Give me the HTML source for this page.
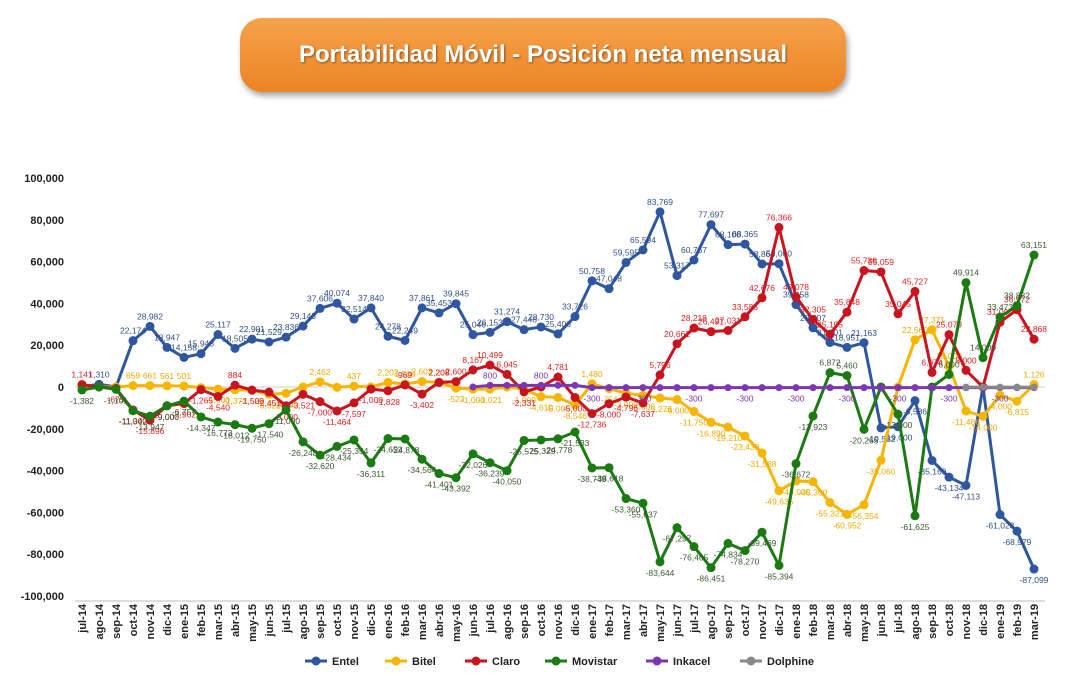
<!DOCTYPE html>
<html><head><meta charset="utf-8"><style>
body{margin:0;width:1073px;height:678px;background:#fff;overflow:hidden;font-family:"Liberation Sans",sans-serif}
.title{position:absolute;left:240px;top:18px;width:606px;height:74px;border-radius:22px;background:linear-gradient(#f6a24a,#ec8424);box-shadow:2px 4px 6px rgba(0,0,0,.35);color:#fff;font-weight:bold;font-size:24px;text-align:center;line-height:74px;text-shadow:1px 1px 2px rgba(0,0,0,.45)}
</style></head><body>
<div class="title">Portabilidad Móvil - Posición neta mensual</div>
<svg id="c" width="1073" height="678" style="position:absolute;left:0;top:0"></svg>
<script>
const months=["jul-14","ago-14","sep-14","oct-14","nov-14","dic-14","ene-15","feb-15","mar-15","abr-15","may-15","jun-15","jul-15","ago-15","sep-15","oct-15","nov-15","dic-15","ene-16","feb-16","mar-16","abr-16","may-16","jun-16","jul-16","ago-16","sep-16","oct-16","nov-16","dic-16","ene-17","feb-17","mar-17","abr-17","may-17","jun-17","jul-17","ago-17","sep-17","oct-17","nov-17","dic-17","ene-18","feb-18","mar-18","abr-18","may-18","jun-18","jul-18","ago-18","sep-18","oct-18","nov-18","dic-18","ene-19","feb-19","mar-19"];
const X=i=>82+i*17, Y=v=>387-v*0.00209;
const S=[
["Entel","#2f56a0","#2f4f8a",[0,1310,0,22174,28982,18947,14158,15948,25117,18505,22901,21529,23836,29143,37606,40074,32514,37840,24278,22249,37861,35453,39845,25046,26153,31274,27446,28730,25406,33726,50758,47048,59595,65594,83769,53317,60767,77697,68106,68365,58864,59000,39458,28307,21301,18951,21163,-19582,-19000,-6536,-35169,-43134,-47113,0,-61023,-68979,-87099]],
["Bitel","#f7b500","#f0a800",[0,0,0,659,661,561,501,-306,-1000,-1372,-1529,-3522,-3000,0,2462,-176,437,0,2202,1500,2603,2208,-523,-1000,-1021,0,-1000,-4610,-5000,-8546,1480,-754,-3000,-4000,-5276,-6000,-11750,-16890,-19210,-23439,-31588,-49635,-45000,-45300,-55321,-60952,-56354,-35060,0,22560,27371,10000,-11486,-14000,-4000,-6815,1126]],
["Claro","#c8141e","#e02020",[1141,0,-675,-11000,-15896,-9000,-7902,-1265,-4540,884,-1500,-2451,-9000,-3521,-7000,-11464,-7597,-1000,-1828,969,-3402,2208,2600,8167,10499,6045,-2331,0,4781,-5000,-12736,-8000,-4796,-7637,5796,20661,28218,26491,27031,33585,42676,76366,43078,32305,25195,35848,55736,55059,35045,45727,6974,25079,8000,0,31000,36972,22868]],
["Movistar","#1b7a12","#3a5a30",[-1382,0,-1101,-11342,-13947,-9000,-6757,-14347,-16773,-18012,-19750,-17540,-11000,-26248,-32620,-28434,-25354,-36311,-24652,-24878,-34564,-41401,-43392,-32026,-36239,-40050,-25575,-25329,-24778,-21533,-38749,-38618,-53360,-55637,-83644,-67297,-76405,-86451,-74834,-78270,-69469,-85394,-36672,-13923,6872,5460,-20265,0,-13000,-61625,0,6000,49914,14000,33473,38882,63151]],
["Inkacel","#7b35b5","#7b35b5",null],
["Dolphine","#888","#777",null]];
const ink=[];for(let i=0;i<57;i++)ink.push(i<23?null:(i==23?2:(i<30?800:-300)));
S[4][3]=ink;const dol=[];for(let i=0;i<57;i++)dol.push(i<52?null:(i==56?-46:-70));S[5][3]=dol;
let h='';
[100000,80000,60000,40000,20000,0,-20000,-40000,-60000,-80000,-100000].forEach(v=>{h+=`<text x="64" y="${Y(v)+4}" text-anchor="end" font-size="11" font-weight="bold" fill="#222">${v.toLocaleString('en-US')}</text>`});
h+=`<line x1="75" x2="1045" y1="${Y(0)}" y2="${Y(0)}" stroke="#ccc"/><line x1="75" x2="1045" y1="601" y2="601" stroke="#bbb"/>`;
months.forEach((m,i)=>{const x=X(i)+4;h+=`<text transform="translate(${x},604) rotate(-90)" text-anchor="end" font-size="11" font-weight="bold" fill="#222">${m}</text>`});
S.forEach(([n,c,lc,d],si)=>{let p='';d.forEach((v,i)=>{if(v==null)return;p+=(p?'L':'M')+X(i)+','+Y(v)});
const small=si>=4;
h+=`<path d="${p}" fill="none" stroke="${c}" stroke-width="3" stroke-linejoin="round"/>`;
d.forEach((v,i)=>{if(v==null)return;h+=`<circle cx="${X(i)}" cy="${Y(v)}" r="${small?3.5:4.5}" fill="${c}"/>`;
let show=small?(i%3==0&&si==4):Math.abs(v)>400;
if(show){const up=v>=0;h+=`<text x="${X(i)}" y="${Y(v)+(up?-7:14)}" text-anchor="middle" font-size="8.5" fill="${lc}">${v.toLocaleString('en-US')}</text>`}})});
let lx=305;S.forEach(([n,c])=>{h+=`<line x1="${lx}" x2="${lx+22}" y1="661" y2="661" stroke="${c}" stroke-width="3"/><circle cx="${lx+11}" cy="661" r="4.5" fill="${c}"/><text x="${lx+27}" y="665" font-size="11" font-weight="bold" fill="#222">${n}</text>`;lx+=n.length*7+45});
document.getElementById('c').innerHTML=h;
</script>
</body></html>
